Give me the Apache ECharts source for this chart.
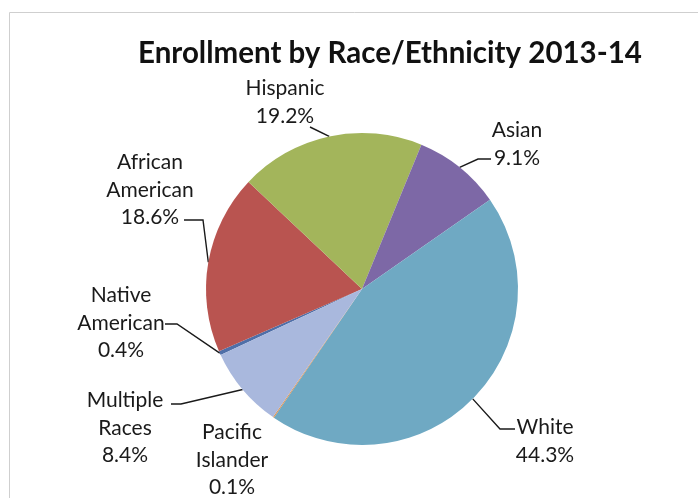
<!DOCTYPE html>
<html>
<head>
<meta charset="utf-8">
<script src="https://cdn.jsdelivr.net/npm/echarts@6/dist/echarts.min.js"></script>
<style>
  html, body { margin: 0; padding: 0; background: #ffffff; }
  #chart { width: 698px; height: 498px; }
</style>
</head>
<body>
<div id="chart"></div>
<script>
// Enrollment shares, listed clockwise around the pie
const groups = ['Native American', 'African American', 'Hispanic', 'Asian', 'White', 'Pacific Islander', 'Multiple Races'];
const shares = [0.4, 18.6, 19.2, 9.1, 44.3, 0.1, 8.4];
const sliceColors = ['#4F6FA8', '#B95450', '#A3B55B', '#7D68A6', '#6FA9C3', '#E0904A', '#A9B8DD'];

// Center of each label's text block
const labelSpots = [
  [121, 323], [150, 190], [285, 102], [517, 144], [545, 441], [232, 460], [125, 428]
];
// Leader line: elbow point then the end touching the label (null = no leader)
const leaderEnds = [
  [[177, 324], [165, 324]],
  [[203, 220], [184, 220]],
  [[310, 127], [310, 127]],
  [[478, 159], [491, 159]],
  [[500, 429], [515, 429]],
  null,
  [[181, 404], [171, 404]]
];

const chart = echarts.init(document.getElementById('chart'), null, { renderer: 'canvas' });

const FONT = 'Lato, "Open Sans", sans-serif';

chart.setOption({
  animation: false,
  title: {
    text: 'Enrollment by Race/Ethnicity 2013-14',
    left: 385,
    top: 33,
    textAlign: 'center',
    textStyle: { fontFamily: FONT, fontWeight: 'bold', fontSize: 29.5, color: '#111111' }
  },
  graphic: [{
    type: 'rect',
    shape: { x: 9.5, y: 12.5, width: 800, height: 600 },
    style: { fill: 'none', stroke: '#cfcfcf', lineWidth: 1 },
    silent: true
  }],
  series: [{
    type: 'pie',
    center: [362, 289],
    radius: [0, 156],
    startAngle: 205,
    clockwise: true,
    avoidLabelOverlap: false,
    data: groups.map((g, i) => ({
      name: g,
      value: shares[i],
      itemStyle: { color: sliceColors[i] },
      labelLine: { show: leaderEnds[i] !== null }
    })),
    itemStyle: { borderWidth: 0 },
    label: {
      show: true,
      position: 'outside',
      fontFamily: FONT,
      fontSize: 21,
      lineHeight: 27.5,
      color: '#1a1a1a',
      align: 'center',
      formatter: p => p.name.replace(' ', '\n') + '\n' + p.value.toFixed(1) + '%'
    },
    labelLine: {
      show: true,
      lineStyle: { color: '#1a1a1a', width: 1.4 }
    },
    labelLayout: params => {
      const i = params.dataIndex;
      const s = labelSpots[i];
      const out = { x: s[0], y: s[1], align: 'center', verticalAlign: 'middle' };
      const lead = leaderEnds[i];
      if (lead && params.labelLinePoints) {
        out.labelLinePoints = [params.labelLinePoints[0], lead[0], lead[1]];
      }
      return out;
    },
    emphasis: { disabled: true }
  }]
});
</script>
</body>
</html>
